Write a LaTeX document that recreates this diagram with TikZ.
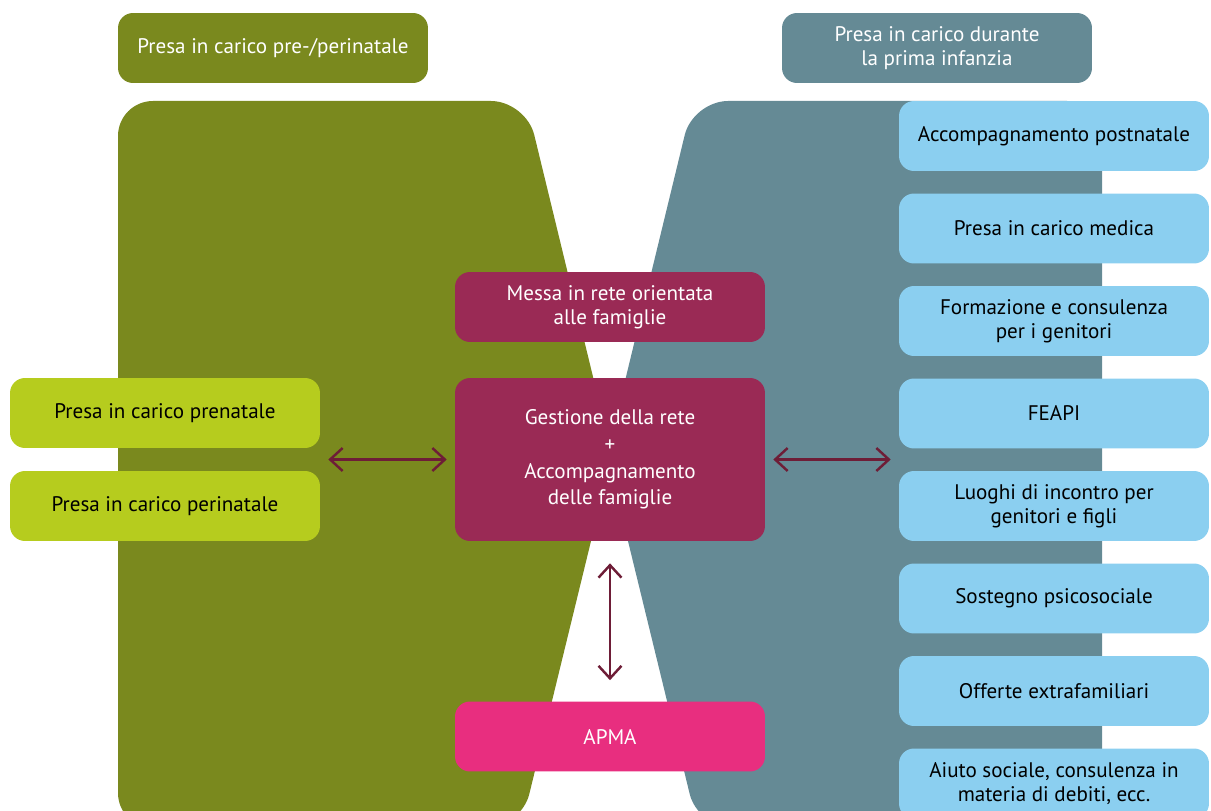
\documentclass[tikz,border=0pt]{standalone}
\usepackage{fontspec}
\setmainfont{PT Sans}
\usetikzlibrary{arrows.meta,calc}
\definecolor{olivegr}{HTML}{7A891E}
\definecolor{slate}{HTML}{658A95}
\definecolor{limegr}{HTML}{B6CC1E}
\definecolor{berry}{HTML}{9A2A55}
\definecolor{pinkish}{HTML}{E82E7F}
\definecolor{skyblue}{HTML}{8BCFF0}
\definecolor{wine}{HTML}{6E1D37}

\begin{document}
\begin{tikzpicture}[x=0.02cm,y=-0.02cm]
\tikzstyle{box}=[rectangle,rounded corners=0.3cm,minimum width=6.2cm,minimum height=1.4cm,align=center,inner sep=2pt,font=\fontsize{12}{13.8}\selectfont]
\tikzstyle{head}=[box,text=white]
\tikzstyle{side}=[box,fill=limegr]
\tikzstyle{mid}=[box,fill=berry,text=white]
\tikzstyle{offer}=[box,fill=skyblue]
\tikzstyle{link}=[draw=wine,line width=1.4pt,shorten <=0.16cm,shorten >=0.16cm,{Straight Barb[length=0.25cm,width=0.46cm]}-{Straight Barb[length=0.25cm,width=0.46cm]}]
\useasboundingbox (0,0) rectangle (1211,811);
\clip (0,0) rectangle (1211,811);
% the two big areas
\fill[olivegr,rounded corners=0.7cm] (118,101) -- (526,101) -- (612,455) -- (521,828) -- (118,828) -- cycle;
\fill[slate,rounded corners=0.7cm] (693,101) -- (1102,101) -- (1102,828) -- (698,828) -- (607,455) -- cycle;
% headers
\node[head,fill=olivegr] (hpre) at (273,48) {Presa in carico pre-/perinatale};
\node[head,fill=slate] (hinf) at (937,48) {Presa in carico durante\\la prima infanzia};
% left side
\node[side] (pre) at (165,413) {Presa in carico prenatale};
\node[side] (peri) at (165,506) {Presa in carico perinatale};
% middle
\node[mid] (messa) at (610,307) {Messa in rete orientata\\alle famiglie};
\node[mid,minimum height=3.26cm,font=\fontsize{12}{15.2}\selectfont] (gest) at (610,459.5) {Gestione della rete\\+\\Accompagnamento\\delle famiglie};
\node[mid,fill=pinkish] (apma) at (610,736.5) {APMA};
% right side
\node[offer] (b1) at (1054,136) {Accompagnamento postnatale};
\node[offer] (b2) at (1054,228.5) {Presa in carico medica};
\node[offer] (b3) at (1054,321) {Formazione e consulenza\\per i genitori};
\node[offer] (b4) at (1054,413.5) {FEAPI};
\node[offer] (b5) at (1054,506) {Luoghi di incontro per\\genitori e figli};
\node[offer] (b6) at (1054,598.5) {Sostegno psicosociale};
\node[offer] (b7) at (1054,691) {Offerte extrafamiliari};
\node[offer] (b8) at (1054,783.5) {Aiuto sociale, consulenza in\\materia di debiti, ecc.};
% links
\draw[link] ($(pre.east)!.5!(peri.east)$) -- (gest.west |- {$(pre.east)!.5!(peri.east)$});
\draw[link] (gest.east) -- (b4.west |- gest.east);
\draw[link,shorten <=0.44cm,shorten >=0.42cm] (gest.south) -- (apma.north);
\end{tikzpicture}
\end{document}
